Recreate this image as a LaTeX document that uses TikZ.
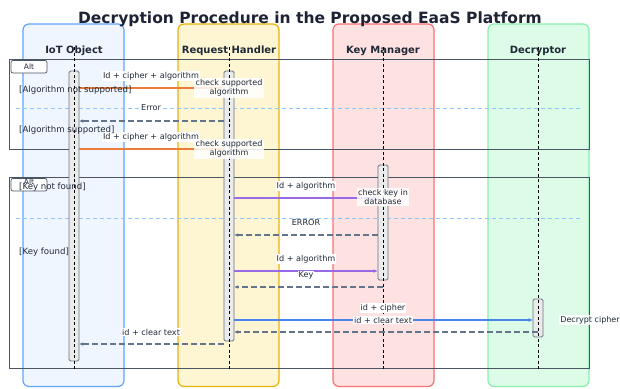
\documentclass[tikz,border=0pt]{standalone}
\usepackage{fontspec}
\setmainfont{DejaVu Sans}
\usetikzlibrary{arrows.meta}

\definecolor{titlecol}{HTML}{1E2235}
\definecolor{iotline}{HTML}{60A5FA}
\definecolor{iotfill}{HTML}{EFF6FF}
\definecolor{rhline}{HTML}{EAB308}
\definecolor{rhfill}{HTML}{FEF5D2}
\definecolor{kmline}{HTML}{F87171}
\definecolor{kmfill}{HTML}{FEE2E2}
\definecolor{decline}{HTML}{86EFAC}
\definecolor{decfill}{HTML}{DCFCE7}
\definecolor{altline}{HTML}{4B5563}
\definecolor{sepline}{HTML}{93C5FD}
\definecolor{reqorange}{HTML}{EB7D3C}
\definecolor{keypurple}{HTML}{9A6AE6}
\definecolor{decblue}{HTML}{4A82EE}
\definecolor{retgray}{HTML}{64748B}
\definecolor{actfill}{HTML}{EBEBEB}
\definecolor{actline}{HTML}{6B7280}
\definecolor{txt}{HTML}{1F2937}

\tikzset{
  column/.style={rounded corners=6pt, line width=1.2pt},
  colhead/.style={font=\bfseries\fontsize{10}{12}\selectfont, text=txt},
  lifeline/.style={black, line width=0.8pt, dash pattern=on 3pt off 2.5pt},
  altbox/.style={draw=altline, line width=0.9pt},
  alttab/.style={draw=altline, fill=white, rounded corners=2pt, line width=0.7pt},
  separator/.style={sepline, line width=0.7pt, dash pattern=on 4pt off 3pt},
  guard/.style={anchor=west, font=\fontsize{8.6}{10}\selectfont, text=txt, inner sep=0pt},
  activation/.style={draw=actline, fill=actfill, rounded corners=1.5pt, line width=0.8pt},
  msglabel/.style={fill=white, font=\fontsize{8.1}{9}\selectfont, text=txt, inner sep=1pt},
  notebox/.style={fill=white, fill opacity=0.85, text opacity=1, align=center,
                  font=\fontsize{8}{9.3}\selectfont, text=txt, inner sep=1.2pt},
  callmsg/.style={line width=1.3pt, -{Latex[length=4.5pt,width=4pt]}},
  retmsg/.style={retgray, line width=1.1pt, dash pattern=on 6pt off 3pt,
                 -{Latex[length=4pt,width=3.5pt]}},
  tablabel/.style={font=\fontsize{7.5}{9}\selectfont, text=txt},
}

\begin{document}
\begin{tikzpicture}[x=1pt,y=-1pt]
\useasboundingbox (0,0) rectangle (620,388);

% participant columns
\draw[column, draw=iotline, fill=iotfill] (23,24) rectangle (124,386.5);
\draw[column, draw=rhline, fill=rhfill] (178,24) rectangle (279,386.5);
\draw[column, draw=kmline, fill=kmfill] (333,24) rectangle (434,386.5);
\draw[column, draw=decline, fill=decfill] (488,24) rectangle (589,386.5);

\node[font=\bfseries\fontsize{15.5}{18}\selectfont, text=titlecol] (title) at (310,19)
  {Decryption Procedure in the Proposed EaaS Platform};

\node[colhead] (iot) at (74,51) {IoT Object};
\node[colhead] (rh) at (229,51) {Request Handler};
\node[colhead] (km) at (383,51) {Key Manager};
\node[colhead] (dec) at (538,51) {Decryptor};

% combined fragments
\draw[altbox] (9.5,59.5) rectangle (589,149);
\draw[alttab] (11,60.5) rectangle (47,73);
\node[tablabel] (alt1) at (29,66.7) {Alt};
\draw[separator] (16,108) -- (581,108);

\draw[altbox] (9.5,177.5) rectangle (589,368.5);
\draw[alttab] (11,178.5) rectangle (47,191);
\node[tablabel] (alt2) at (29,182) {Alt};
\draw[separator] (16,218.3) -- (581,218.3);

% activation bars
\node[activation, minimum width=10pt, minimum height=290pt, inner sep=0pt] (iotact) at (74,216) {};
\node[activation, minimum width=10pt, minimum height=270pt, inner sep=0pt] (rhact) at (229,206) {};
\node[activation, minimum width=10pt, minimum height=115pt, inner sep=0pt] (kmact) at (383,222.5) {};
\node[activation, minimum width=10pt, minimum height=38pt, inner sep=0pt] (decact) at (538,318) {};

% lifelines
\coordinate (iottop) at (74,47);  \coordinate (iotbot) at (74,370);
\coordinate (rhtop) at (229,47);  \coordinate (rhbot) at (229,370);
\coordinate (kmtop) at (383,47);  \coordinate (kmbot) at (383,370);
\coordinate (dectop) at (538,47); \coordinate (decbot) at (538,370);
\draw[lifeline] (iottop) -- (iotbot);
\draw[lifeline] (rhtop) -- (rhbot);
\draw[lifeline] (kmtop) -- (kmbot);
\draw[lifeline] (dectop) -- (decbot);

% message end points
\coordinate (a1) at (79,88);   \coordinate (b1) at (224,88);
\coordinate (a2) at (224,121); \coordinate (b2) at (79,121);
\coordinate (a3) at (79,149);  \coordinate (b3) at (224,149);
\coordinate (a4) at (234,198); \coordinate (b4) at (378,198);
\coordinate (a5) at (378,235); \coordinate (b5) at (234,235);
\coordinate (a6) at (234,271); \coordinate (b6) at (378,271);
\coordinate (a7) at (383,287); \coordinate (b7) at (234,287);
\coordinate (a8) at (234,320); \coordinate (b8) at (533,320);
\coordinate (a9) at (538,332); \coordinate (b9) at (234,332);
\coordinate (a10) at (224,344); \coordinate (b10) at (79,344);

% first fragment
\draw[callmsg, reqorange] (a1) -- (b1);
\node[msglabel] (l1) at (151,76) {Id + cipher + algorithm};
\node[notebox] (n1) at (229,88) {check supported\\algorithm};
\node[msglabel] (l2) at (151,108) {Error};
\draw[retmsg] (a2) -- (b2);
\draw[callmsg, reqorange] (a3) -- (b3);
\node[msglabel] (l3) at (151,137) {Id + cipher + algorithm};
\node[notebox] (n2) at (229,149) {check supported\\algorithm};

% second fragment
\draw[callmsg, keypurple] (a4) -- (b4);
\node[msglabel] (l4) at (306,186) {Id + algorithm};
\node[notebox] (n3) at (383,197) {check key in\\database};
\node[msglabel] (l5) at (306,223) {ERROR};
\draw[retmsg] (a5) -- (b5);
\draw[callmsg, keypurple] (a6) -- (b6);
\node[msglabel] (l6) at (306,259) {Id + algorithm};
\node[msglabel] (l7) at (306,275.5) {Key};
\draw[retmsg] (a7) -- (b7);
\draw[callmsg, decblue] (a8) -- (b8);
\node[msglabel] (l8) at (383,308) {id + cipher};
\node[msglabel] (l9) at (383,320) {id + clear text};
\node[notebox, anchor=west] (n4) at (559,320) {Decrypt cipher};
\draw[retmsg] (a9) -- (b9);
\node[msglabel] (l10) at (151,332) {id + clear text};
\draw[retmsg] (a10) -- (b10);

% guard conditions, set on top of everything
\node[guard] (g1) at (19,90) {[Algorithm not supported]};
\node[guard] (g2) at (19,130) {[Algorithm supported]};
\node[guard] (g3) at (19,187) {[Key not found]};
\node[guard] (g4) at (19,252) {[Key found]};
\end{tikzpicture}
\end{document}
